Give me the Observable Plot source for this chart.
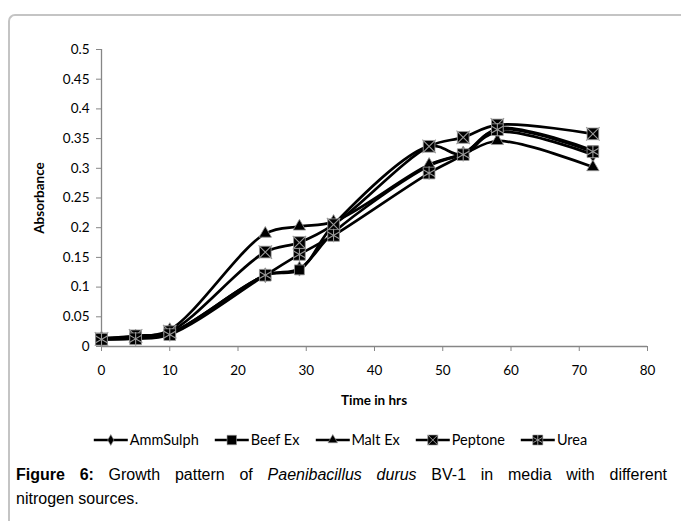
<!DOCTYPE html>
<html>
<head>
<meta charset="utf-8">
<script src="https://cdn.jsdelivr.net/npm/d3@7"></script>
<script src="https://cdn.jsdelivr.net/npm/@observablehq/plot@0.6"></script>
<style>
  html, body { margin: 0; padding: 0; background: #fff; }
  body { width: 681px; height: 521px; position: relative; overflow: hidden; }
  #frame { position: absolute; left: 8px; top: 14px; width: 720px; height: 600px;
           border-left: 2px solid #c4c4c4; border-top: 2px solid #c4c4c4; border-top-left-radius: 7px; }
  #chart { position: absolute; left: 0; top: 0; }
  .axt { position: absolute; font-family: Lato, sans-serif; font-weight: bold; font-size: 13.5px; color: #000; line-height: 1; white-space: nowrap; }
  #legend { position: absolute; top: 431px; left: 340px; transform: translateX(-50%); display: flex; gap: 15px;
            font-family: Lato, sans-serif; font-size: 14.5px; color: #000; white-space: nowrap; align-items: center; }
  #legend .item { display: flex; align-items: center; }
  #legend svg { display: block; }
  #caption { position: absolute; left: 16px; top: 463px; width: 651px; font-family: "Liberation Sans", Arial, sans-serif;
             font-size: 16px; line-height: 24px; color: #000; }
  #caption .l1 { text-align: justify; text-align-last: justify; }
</style>
</head>
<body>
<div id="frame"></div>
<div id="chart"></div>
<div class="axt" id="xtitle" style="left:374px; top:394px; transform: translateX(-50%);">Time in hrs</div>
<div class="axt" id="ytitle" style="left:40px; top:198px; transform: translate(-50%,-50%) rotate(-90deg);">Absorbance</div>
<div id="legend"></div>
<div id="caption">
  <div class="l1"><b>Figure 6:</b> Growth pattern of <i>Paenibacillus durus</i> BV-1 in media with different</div>
  <div>nitrogen sources.</div>
</div>
<script>
// ---- data ----
const times = [0, 5, 10, 24, 29, 34, 48, 53, 58, 72];
const seriesNames = ["AmmSulph", "Beef Ex", "Malt Ex", "Peptone", "Urea"];
const ammSulph = [0.012, 0.014, 0.022, 0.120, 0.131, 0.192, 0.304, 0.325, 0.361, 0.323];
const beefEx   = [0.013, 0.016, 0.022, 0.120, 0.129, 0.205, 0.337, 0.323, 0.367, 0.330];
const maltEx   = [0.014, 0.017, 0.028, 0.190, 0.202, 0.210, 0.306, 0.324, 0.346, 0.302];
const peptone  = [0.013, 0.018, 0.025, 0.159, 0.175, 0.205, 0.337, 0.352, 0.373, 0.358];
const urea     = [0.012, 0.013, 0.020, 0.120, 0.155, 0.187, 0.292, 0.323, 0.365, 0.328];
const xTicks = [0, 10, 20, 30, 40, 50, 60, 70, 80];
const yTicks = [0, 0.05, 0.1, 0.15, 0.2, 0.25, 0.3, 0.35, 0.4, 0.45, 0.5];

const valuesBySeries = [ammSulph, beefEx, maltEx, peptone, urea];
const data = seriesNames.flatMap((s, k) => times.map((t, i) => ({series: s, time: t, value: valuesBySeries[k][i]})));
const of = s => data.filter(d => d.series === s);

const AX = "#868686";
const MK = "#9a9a9a";

const chart = Plot.plot({
  width: 681, height: 420,
  marginLeft: 101, marginRight: 34, marginTop: 49, marginBottom: 74,
  x: {domain: [0, 80]},
  y: {domain: [0, 0.5]},
  style: {fontFamily: "Lato, sans-serif", fontSize: "13.5px", color: "#000", background: "transparent", overflow: "visible"},
  marks: [
    Plot.axisX({ticks: xTicks, tickSize: 5, tickPadding: 14, stroke: AX, fill: "#000", label: null, fontSize: 13.5}),
    Plot.axisY({ticks: yTicks, tickSize: 5, tickPadding: 7, stroke: AX, fill: "#000", label: null, fontSize: 13.5, tickFormat: d => String(d)}),
    Plot.ruleY([0], {stroke: AX, strokeWidth: 1.3}),
    Plot.ruleX([0], {stroke: AX, strokeWidth: 1.3}),
    Plot.line(data, {x: "time", y: "value", z: "series", curve: "catmull-rom", stroke: "#000", strokeWidth: 2.7}),
    Plot.dot(of("AmmSulph"), {x: "time", y: "value", symbol: "diamond", r: 4.5, fill: "#000", stroke: MK, strokeWidth: 0.8}),
    Plot.dot(of("Beef Ex"), {x: "time", y: "value", symbol: "square", r: 5.6, fill: "#000", stroke: MK, strokeWidth: 0.8}),
    Plot.dot(of("Malt Ex"), {x: "time", y: "value", symbol: "triangle", r: 4.6, fill: "#000", stroke: MK, strokeWidth: 0.8}),
    Plot.dot(of("Peptone"), {x: "time", y: "value", symbol: "square", r: 6.6, fill: "#000", stroke: MK, strokeWidth: 0.8}),
    Plot.dot(of("Peptone"), {x: "time", y: "value", symbol: "times", r: 6.2, fill: "none", stroke: MK, strokeWidth: 1.1}),
    Plot.dot(of("Urea"), {x: "time", y: "value", symbol: "square", r: 6.6, fill: "#000", stroke: MK, strokeWidth: 0.8}),
    Plot.dot(of("Urea"), {x: "time", y: "value", symbol: "asterisk", r: 6.4, fill: "none", stroke: MK, strokeWidth: 1.1})
  ]
});
document.getElementById("chart").appendChild(chart);

// ---- legend ----
const legendSymbols = [
  [{type: d3.symbolDiamond, size: 34}],
  [{type: d3.symbolSquare, size: 90}],
  [{type: d3.symbolTriangle, size: 40}],
  [{type: d3.symbolSquare, size: 100}, {type: d3.symbolTimes, size: 70, overlay: true}],
  [{type: d3.symbolSquare, size: 100}, {type: d3.symbolAsterisk, size: 70, overlay: true}]
];
const legend = d3.select("#legend");
seriesNames.forEach((name, k) => {
  const item = legend.append("div").attr("class", "item");
  const svg = item.append("svg").attr("width", 37).attr("height", 14);
  svg.append("line").attr("x1", 1).attr("x2", 35).attr("y1", 7).attr("y2", 7).attr("stroke", "#000").attr("stroke-width", 2.6);
  legendSymbols[k].forEach(s => {
    svg.append("path").attr("transform", "translate(18,7)")
      .attr("d", d3.symbol(s.type, s.size)())
      .attr("fill", s.overlay ? "none" : "#000")
      .attr("stroke", MK).attr("stroke-width", s.overlay ? 1 : 0.6);
  });
  item.append("span").text(name);
});
</script>
</body>
</html>
